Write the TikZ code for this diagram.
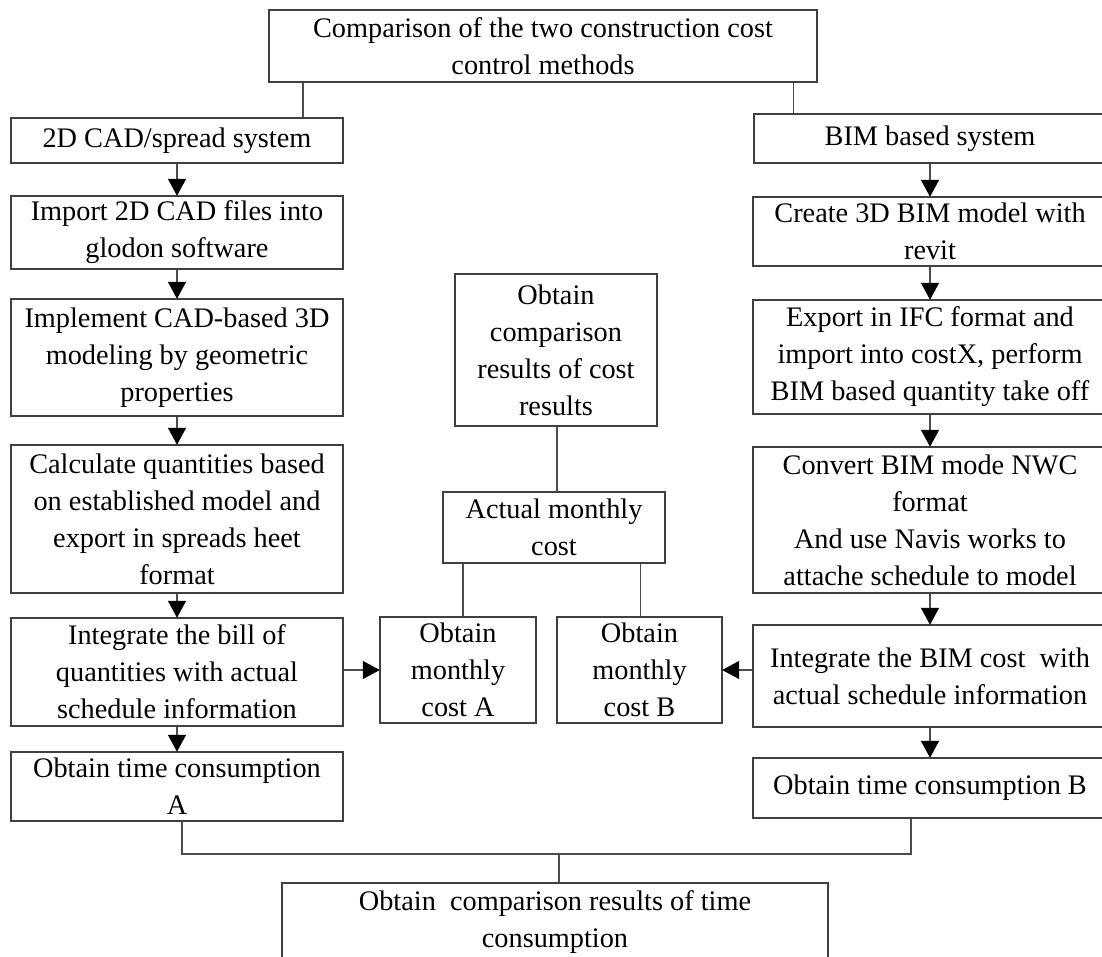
\documentclass[tikz,border=0pt]{standalone}
\usepackage{fontspec}
\setmainfont{Liberation Serif}
\usetikzlibrary{arrows.meta}
\tikzset{
  x=1pt, y=-1pt,
  box/.style={draw=black!75, line width=1.4pt, inner sep=0pt, align=center,
    font=\fontsize{28.3}{37}\selectfont, text=black},
  conn/.style={draw=black!70, line width=1.4pt},
  arr/.style={conn, -{Triangle[width=18pt,length=17pt,color=black,fill=black]}, shorten >=-0.5pt}
}
\begin{document}
\begin{tikzpicture}
\useasboundingbox (0,0) rectangle (1102,957);
\clip (0,0) rectangle (1102,957);
\fill[white] (0,0) rectangle (1102,957);
% nodes
\node[box, minimum width=548, minimum height=72] (top) at (543,46) {Comparison of the two construction cost\\control methods};
\node[box, minimum width=332, minimum height=45] (cad) at (177,140.5) {2D CAD/spread system};
\node[box, minimum width=332, minimum height=73] (imp) at (177,232.5) {Import 2D CAD files into\\glodon software};
\node[box, minimum width=332, minimum height=117] (impl) at (177,357.5) {Implement CAD-based 3D\\modeling by geometric\\properties};
\node[box, minimum width=332, minimum height=148] (calc) at (177,519) {Calculate quantities based\\on established model and\\export in spreads heet\\format};
\node[box, minimum width=332, minimum height=108] (intA) at (177,672) {Integrate the bill of\\quantities with actual\\schedule information};
\node[box, minimum width=332, minimum height=69] (timeA) at (177,786.5) {Obtain time consumption\\A};
\node[box, minimum width=202, minimum height=152] (costres) at (556,350) {Obtain\\comparison\\results of cost\\results};
\node[box, minimum width=222, minimum height=71] (actual) at (554,527.5) {Actual monthly\\cost};
\node[box, minimum width=156, minimum height=106] (mA) at (458,670) {Obtain\\monthly\\cost A};
\node[box, minimum width=165, minimum height=106] (mB) at (639.5,670) {Obtain\\monthly\\cost B};
\node[box, minimum width=352, minimum height=49] (bim) at (930,138.5) {BIM based system};
\node[box, minimum width=354, minimum height=69] (create) at (930,231.5) {Create 3D BIM model with\\revit};
\node[box, minimum width=354, minimum height=114] (export) at (930,357) {Export in IFC format and\\import into costX, perform\\BIM based quantity take off};
\node[box, minimum width=354, minimum height=146] (convert) at (930,520) {Convert BIM mode NWC\\format\\And use Navis works to\\attache schedule to model};
\node[box, minimum width=354, minimum height=102] (intB) at (930,676) {Integrate the BIM cost~ with\\actual schedule information};
\node[box, minimum width=354, minimum height=60] (timeB) at (930,788) {Obtain time consumption B};
\node[box, minimum width=546, minimum height=79] (bottom) at (555,922.5) {Obtain~ comparison results of time\\consumption};
% connectors
\draw[conn] ([xshift=34.6pt]top.south west) -- ([xshift=34.6pt]top.south west |- cad.north);
\draw[conn] ([xshift=-24pt]top.south east) -- ([xshift=-24pt]top.south east |- bim.north);
\draw[arr] (cad) -- (imp);
\draw[arr] (imp) -- (impl);
\draw[arr] (impl) -- (calc);
\draw[arr] (calc) -- (intA);
\draw[arr] (intA) -- (timeA);
\draw[arr] (bim) -- (create);
\draw[arr] (create) -- (export);
\draw[arr] (export) -- (convert);
\draw[arr] (convert) -- (intB);
\draw[arr] (intB) -- (timeB);
\draw[arr] (intA.east |- mA.west) -- (mA.west);
\draw[arr] (intB.west |- mB.east) -- (mB.east);
\draw[conn] ([xshift=1pt]costres.south) -- ([xshift=1pt]costres.south |- actual.north);
\draw[conn] ([xshift=20.6pt]actual.south west) -- ([xshift=20.6pt]actual.south west |- mA.north);
\draw[conn] ([xshift=-25pt]actual.south east) -- ([xshift=-25pt]actual.south east |- mB.north);
\coordinate (j) at (559,854);
\draw[conn] ([xshift=5pt]timeA.south) |- (j);
\draw[conn] ([xshift=-19pt]timeB.south) |- (j);
\draw[conn] (j) -- (j |- bottom.north);
\end{tikzpicture}
\end{document}
